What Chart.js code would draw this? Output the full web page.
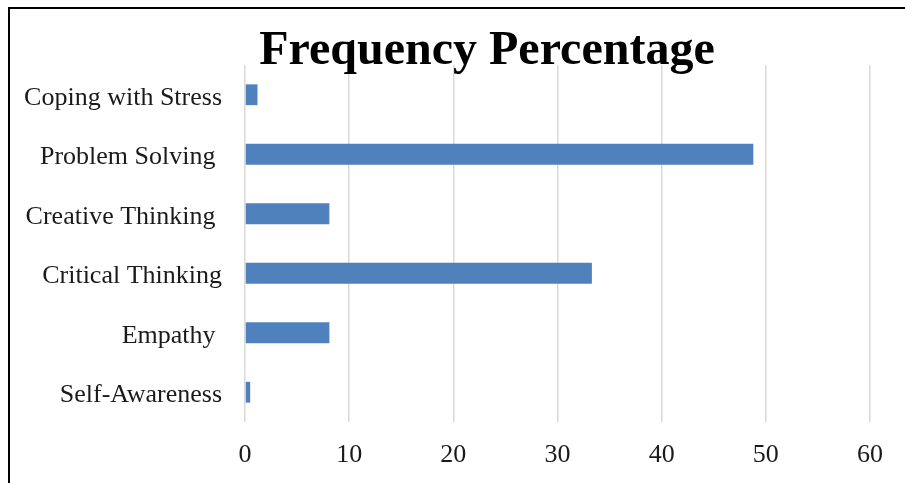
<!DOCTYPE html>
<html>
<head>
<meta charset="utf-8">
<script src="https://cdn.jsdelivr.net/npm/chart.js@4/dist/chart.umd.min.js"></script>
<style>
  html, body { margin: 0; padding: 0; background: #fff; overflow: hidden; width: 905px; height: 483px; }
  #frame {
    position: absolute; left: 8px; top: 7px;
    width: 930px; height: 500px;
    border-left: 2px solid #000; border-top: 2px solid #000;
  }
  #chart { position: absolute; left: 0; top: 0; }
</style>
</head>
<body>
<div id="frame"><canvas id="chart" width="895" height="474"></canvas></div>
<script>
// Life-skill categories, listed top to bottom
const categories = [
  'Coping with Stress',
  'Problem Solving ',
  'Creative Thinking ',
  'Critical Thinking',
  'Empathy ',
  'Self-Awareness'
];
// Frequency percentage for each skill
const percentages = [1.2, 48.8, 8.1, 33.3, 8.1, 0.5];
// Horizontal axis range and step
const axisMin = 0;
const axisMax = 60;
const axisStep = 10;
const chartTitle = 'Frequency Percentage';

const serif = '"Liberation Serif", "Times New Roman", serif';

// Draws the bold headline above the plot
const headline = {
  id: 'headline',
  afterDraw(chart, args, opts) {
    const ctx = chart.ctx;
    ctx.save();
    ctx.font = 'bold 48px ' + serif;
    ctx.fillStyle = '#000';
    ctx.textAlign = 'center';
    ctx.textBaseline = 'alphabetic';
    ctx.fillText(opts.text, opts.x, opts.y);
    ctx.restore();
  }
};

new Chart(document.getElementById('chart'), {
  type: 'bar',
  data: {
    labels: categories,
    datasets: [{
      data: percentages,
      backgroundColor: '#4F81BD',
      borderWidth: 0,
      barPercentage: 0.35,
      categoryPercentage: 1
    }]
  },
  plugins: [headline],
  options: {
    indexAxis: 'y',
    responsive: false,
    animation: false,
    layout: { padding: { top: 56, right: 35, bottom: 0, left: 0 } },
    plugins: {
      legend: { display: false },
      tooltip: { enabled: false },
      headline: { text: chartTitle, x: 477, y: 55 }
    },
    scales: {
      x: {
        min: axisMin,
        max: axisMax,
        afterFit(s) { s.height = 61; },
        border: { display: false },
        grid: { color: '#d9d9d9', lineWidth: 1.5, drawTicks: false },
        ticks: {
          stepSize: axisStep,
          padding: 18,
          color: '#1a1a1a',
          font: { family: serif, size: 26 }
        }
      },
      y: {
        afterFit(s) { s.width = 235; },
        border: { display: false },
        grid: { display: false, drawTicks: false },
        ticks: {
          padding: 23,
          labelOffset: 3,
          color: '#1a1a1a',
          font: { family: serif, size: 26 }
        }
      }
    }
  }
});
</script>
</body>
</html>
